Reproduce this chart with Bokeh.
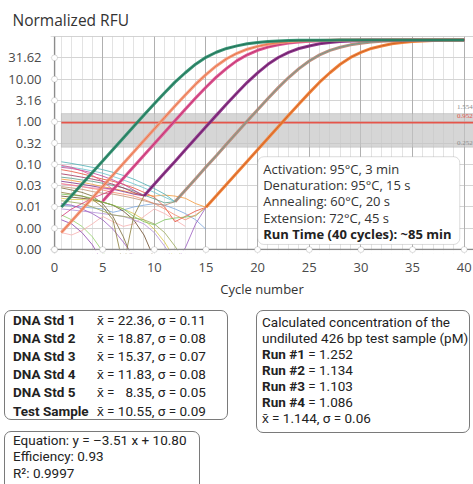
from bokeh.plotting import figure
from bokeh.layouts import column
from bokeh.models import (BoxAnnotation, Label, Span, FixedTicker, Grid, Div,
                          CustomJSTickFormatter, PrintfTickFormatter, Range1d)
from bokeh.embed import file_html
from bokeh.resources import INLINE

FONT = "Open Sans"
BOX_FONT = "Roboto"

# ---------------- data ----------------
cycles = list(range(1, 41))
x_major = [5, 10, 15, 20, 25, 30, 35, 40]
y_ticks = [0.001, 0.003162, 0.01, 0.03162, 0.1, 0.3162, 1.0, 3.162, 10.0, 31.62]

threshold = 0.952
zone_low = 0.252
zone_high = 1.554

# amplification curves (normalized RFU), first value at *_start cycle
std5_start = 1
std5 = [0.0100, 0.0186, 0.0347, 0.0646, 0.120, 0.224, 0.417, 0.776, 1.43, 2.63,
        4.79, 8.51, 14.1, 22.4, 32.4, 42.7, 52.5, 60.3, 67.6, 72.4,
        75.9, 78.5, 80.4, 81.3, 81.7, 82.0, 82.2, 82.3, 82.4, 82.5,
        82.6, 82.6, 82.7, 82.7, 82.8, 82.8, 82.9, 82.9, 83.0, 83.0]
test_start = 1
test = [0.00251, 0.00468, 0.00871, 0.0162, 0.0302, 0.0562, 0.105, 0.195, 0.363, 0.676,
        1.26, 2.33, 4.25, 7.59, 12.8, 20.4, 30.1, 40.4, 50.4, 58.6,
        66.1, 71.4, 75.2, 78.0, 80.0, 81.1, 81.8, 82.4, 82.8, 83.0,
        83.2, 83.3, 83.4, 83.5, 83.5, 83.6, 83.6, 83.7, 83.7, 83.8]
std4_start = 5
std4 = [0.0137, 0.0255, 0.0474, 0.0883, 0.164, 0.306, 0.570, 1.06, 1.96, 3.59,
        6.46, 11.1, 17.9, 27.1, 37.3, 47.5, 56.4, 64.0, 70.1, 74.1,
        77.3, 79.4, 80.7, 81.5, 82.0, 82.4, 82.8, 83.0, 83.2, 83.3,
        83.4, 83.5, 83.6, 83.6, 83.7, 83.7]
std3_start = 9
std3 = [0.0182, 0.0339, 0.0631, 0.117, 0.219, 0.407, 0.759, 1.41, 2.60, 4.73,
        8.41, 14.0, 22.2, 32.1, 42.5, 52.2, 60.1, 67.5, 72.4, 75.9,
        78.5, 80.4, 81.3, 82.0, 82.4, 82.8, 83.0, 83.2, 83.3, 83.4,
        83.5, 83.6]
std2_start = 12
std2 = [0.0133, 0.0248, 0.0462, 0.0861, 0.160, 0.299, 0.556, 1.04, 1.91, 3.51,
        6.31, 10.9, 17.6, 26.7, 37.0, 47.1, 56.1, 63.7, 69.8, 74.1,
        77.1, 79.4, 80.7, 81.5, 82.0, 82.4, 82.8, 83.0, 83.2]
std1_start = 15
std1 = [0.00984, 0.0183, 0.0341, 0.0635, 0.118, 0.220, 0.410, 0.764, 1.42, 2.61,
        4.75, 8.47, 14.1, 22.3, 32.3, 42.6, 52.4, 60.1, 67.6, 72.4,
        75.9, 78.5, 80.4, 81.3, 82.0, 82.4]

# baseline (pre-amplification) traces, from cycle 1
base_std1 = [
    [0.075, 0.068, 0.060, 0.052, 0.045, 0.040, 0.034, 0.028, 0.022, 0.017, 0.010, 0.0045, 0.0060, 0.0080, 0.00984],
    [0.045, 0.042, 0.038, 0.034, 0.030, 0.027, 0.024, 0.021, 0.019, 0.018, 0.019, 0.018, 0.016, 0.012, 0.00984],
    [0.020, 0.019, 0.018, 0.016, 0.013, 0.011, 0.009, 0.006, 0.0045, 0.0038, 0.0050, 0.0055, 0.0058, 0.0062, 0.00984],
    [0.012, 0.011, 0.009, 0.007, 0.005, 0.003, 0.0015, 0.0007, 0.0003, 0.0003, 0.0003, 0.0005, 0.0011, 0.004, 0.00984],
    [0.035, 0.033, 0.030, 0.027, 0.025, 0.022, 0.020, 0.018, 0.015, 0.012, 0.009, 0.0065, 0.0050, 0.0065, 0.00984],
]
base_std1_colors = ["#e8503a", "#f39a3c", "#7cc35a", "#9a5cc0", "#f5896a"]
base_std2 = [
    [0.115, 0.105, 0.095, 0.085, 0.075, 0.065, 0.055, 0.045, 0.035, 0.027, 0.020, 0.0133],
    [0.090, 0.085, 0.078, 0.070, 0.062, 0.052, 0.043, 0.035, 0.028, 0.022, 0.017, 0.0133],
    [0.030, 0.028, 0.026, 0.023, 0.021, 0.020, 0.018, 0.016, 0.014, 0.012, 0.011, 0.0133],
    [0.050, 0.047, 0.043, 0.040, 0.036, 0.032, 0.028, 0.024, 0.019, 0.0155, 0.0125, 0.0133],
]
base_std2_colors = ["#4fb0b5", "#6cc3cf", "#c09070", "#5a9c88"]
base_std3 = [
    [0.040, 0.037, 0.034, 0.031, 0.028, 0.026, 0.023, 0.020, 0.0182],
    [0.085, 0.080, 0.072, 0.063, 0.053, 0.043, 0.034, 0.025, 0.0182],
    [0.022, 0.020, 0.018, 0.015, 0.010, 0.005, 0.0004, 0.006, 0.0182],
    [0.060, 0.055, 0.050, 0.045, 0.040, 0.034, 0.028, 0.022, 0.0182],
]
base_std3_colors = ["#7d2d86", "#c0449a", "#8b7d3a", "#a0305a"]
base_std4 = [
    [0.095, 0.085, 0.070, 0.055, 0.040, 0.0255],
    [0.035, 0.032, 0.030, 0.028, 0.027, 0.0255],
    [0.006, 0.009, 0.012, 0.016, 0.020, 0.0255],
]
base_std4_colors = ["#e0508f", "#ee7fae", "#d23c7a"]
base_other = [
    [0.016, 0.015, 0.015, 0.014, 0.013, 0.011, 0.009, 0.007, 0.005, 0.003, 0.0015, 0.0006],
    [0.0065, 0.005, 0.0035, 0.002, 0.0009, 0.0004],
    [0.011, 0.0105, 0.010, 0.0095, 0.009, 0.0075, 0.0085, 0.010, 0.011, 0.012, 0.011, 0.009, 0.007, 0.005, 0.003],
    [0.0025, 0.0022, 0.0028, 0.004, 0.006, 0.0045, 0.0035, 0.004, 0.006, 0.009, 0.007, 0.005, 0.0035],
    [0.028, 0.025, 0.022, 0.018, 0.012, 0.006, 0.002, 0.0005],
    [0.005, 0.004, 0.0025, 0.0013, 0.0005],
    [0.018, 0.017, 0.016, 0.015, 0.013, 0.011, 0.008, 0.005, 0.0022, 0.0006],
    [0.009, 0.0085, 0.008, 0.0075, 0.007, 0.0065, 0.006, 0.005, 0.004, 0.0025, 0.0012, 0.0005],
    [0.014, 0.013, 0.012, 0.010, 0.008, 0.0065, 0.006, 0.0055, 0.005, 0.004, 0.0025, 0.0012, 0.0005],
]
base_other_colors = ["#d9c84a", "#93d16a", "#7aa6dc", "#f6b0b0", "#7a6a3a",
                     "#8e44ad", "#6b4a2a", "#b48fd8", "#9aa85a"]

protocol = ["Activation: 95\u00b0C, 3 min", "Denaturation: 95\u00b0C, 15 s",
            "Annealing: 60\u00b0C, 20 s", "Extension: 72\u00b0C, 45 s"]
protocol_bold = "Run Time (40 cycles): ~85 min"

std_names = ["DNA Std 1", "DNA Std 2", "DNA Std 3", "DNA Std 4", "DNA Std 5", "Test Sample"]
std_ct = ["22.36", "18.87", "15.37", "11.83", "\u20078.35", "10.55"]
std_sd = ["0.11", "0.08", "0.07", "0.08", "0.05", "0.09"]

runs = ["Run #1", "Run #2", "Run #3", "Run #4"]
run_conc = ["1.252", "1.134", "1.103", "1.086"]
conc_head = ["Calculated concentration of the", "undiluted 426 bp test sample (pM)"]
conc_mean = "x\u0304 = 1.144, \u03c3 = 0.06"

equation = ["Equation: y = \u20133.51 x + 10.80", "Efficiency: 0.93", "R\u00b2: 0.9997"]

# ---------------- main chart ----------------
X0 = 0.34              # position of the "0" tick / y-axis line
XS, XE = -0.05, 40.9   # frame extent (a few px beyond the axis line)
YS, YE = 0.000809, 100

p = figure(width=473, height=300, y_axis_type="log",
           x_range=Range1d(XS, XE), y_range=Range1d(YS, YE),
           output_backend="svg", toolbar_location=None,
           min_border_left=50, min_border_right=0, min_border_top=35, min_border_bottom=44)
p.outline_line_color = None
p.background_fill_color = "white"

p.title.text = "Normalized RFU"
p.title.align = "left"
p.title.offset = -38
p.title.standoff = 12
p.title.text_font = FONT
p.title.text_font_size = "15.5px"
p.title.text_font_style = "normal"
p.title.text_color = "#333333"

p.xgrid.ticker = FixedTicker(ticks=cycles)
p.xgrid.grid_line_color = "#e3e3e3"
p.ygrid.ticker = FixedTicker(ticks=y_ticks)
p.ygrid.grid_line_color = "#d4d4d4"
p.add_layout(Grid(dimension=0, ticker=FixedTicker(ticks=x_major), grid_line_color="#b0b0b0"))
p.add_layout(Span(location=YE, dimension="width", line_color="#a8a8a8", line_width=1))

for ax in (p.xaxis, p.yaxis):
    ax.axis_line_color = None
    ax.major_tick_line_color = None
    ax.minor_tick_line_color = None
    ax.major_label_text_font = FONT
    ax.major_label_text_font_size = "13px"
    ax.major_label_text_color = "#4a4a4a"

p.xaxis.ticker = FixedTicker(ticks=[X0] + x_major)
p.xaxis.formatter = CustomJSTickFormatter(code="return tick < 1 ? '0' : tick.toFixed(0);")
p.xaxis.major_label_standoff = 3
p.xaxis.axis_label = "Cycle number"
p.xaxis.axis_label_text_font = FONT
p.xaxis.axis_label_text_font_size = "13px"
p.xaxis.axis_label_text_font_style = "normal"
p.xaxis.axis_label_text_color = "#333333"
p.xaxis.axis_label_standoff = 5
p.yaxis.ticker = FixedTicker(ticks=y_ticks)
p.yaxis.formatter = PrintfTickFormatter(format="%.2f")
p.yaxis.major_label_standoff = 3

# threshold zone
p.add_layout(BoxAnnotation(left=cycles[0], bottom=zone_low, top=zone_high,
                           fill_color="#c4c4c4", fill_alpha=0.7,
                           line_color="#9a9a9a", line_width=1, level="underlay"))

# baseline traces
for traces, cols in ((base_other, base_other_colors), (base_std1, base_std1_colors),
                     (base_std2, base_std2_colors), (base_std3, base_std3_colors),
                     (base_std4, base_std4_colors)):
    for t, c in zip(traces, cols):
        p.line(cycles[:len(t)], t, line_color=c, line_width=0.9, line_alpha=0.9)

p.segment(x0=[cycles[0]], x1=[XE], y0=[threshold], y1=[threshold], line_color="#e5554a", line_width=1.6)

curves = [
    (std1_start, std1, "#f07e34", "#c85a22"),
    (std2_start, std2, "#bb8878", "#5fa08f"),
    (std3_start, std3, "#8d2f88", "#5e1a5e"),
    (std4_start, std4, "#dc4f8d", "#b8306c"),
    (test_start, test, "#f2967a", "#e66f3e"),
    (std5_start, std5, "#2f8f6f", "#1d6a52"),
]
for s, vals, band, over in curves:
    xs = cycles[s - 1:]
    p.line(xs, vals, line_color=band, line_width=3.0, line_alpha=0.95)
    p.line(xs, vals, line_color=over, line_width=0.9, line_alpha=0.9)

# visible axis lines, then white margins outside them
p.add_layout(Span(location=X0, dimension="height", line_color="#8c8c8c", line_width=1.5))
p.add_layout(Span(location=y_ticks[0], dimension="width", line_color="#8c8c8c", line_width=1.5))
p.add_layout(BoxAnnotation(top=0.00097, fill_color="white", fill_alpha=1, line_color=None))
p.add_layout(BoxAnnotation(right=X0 - 0.1, fill_color="white", fill_alpha=1, line_color=None))

# tiny zone labels
for txt, yv, col in (("1.554", 2.19, "#8c8c8c"), ("0.952", 1.36, "#e5554a"), ("0.252", 0.309, "#8c8c8c")):
    p.add_layout(Label(x=39.3, y=yv, text=txt, text_font="Liberation Serif",
                       text_font_size="7px", text_color=col, text_baseline="middle"))

# hollow tick markers
for v in y_ticks:
    p.add_layout(BoxAnnotation(left=X0 - 0.29, right=X0 + 0.29, bottom=v / 1.172, top=v * 1.172,
                               border_radius=3, fill_color="white", fill_alpha=1,
                               line_color="#8c8c8c", line_width=1, level="overlay"))
for t in [X0] + x_major:
    p.add_layout(BoxAnnotation(left=t - 0.29, right=t + 0.29,
                               bottom=y_ticks[0] / 1.172, top=y_ticks[0] * 1.172,
                               border_radius=3, fill_color="white", fill_alpha=1,
                               line_color="#8c8c8c", line_width=1, level="overlay"))

# protocol box
p.add_layout(BoxAnnotation(left=20.02, right=39.57, bottom=0.00132, top=0.151, border_radius=6,
                           fill_color="white", fill_alpha=1, line_color="#8a8a8a", line_width=1))
for txt, yv in zip(protocol, [0.0787, 0.0335, 0.0136, 0.00543]):
    p.add_layout(Label(x=20.54, y=yv, text=txt, text_font=FONT, text_font_size="13px",
                       text_color="#333333", text_baseline="middle"))
p.add_layout(Label(x=20.54, y=0.00232, text=protocol_bold, text_font=FONT, text_font_size="13px",
                   text_font_style="bold", text_color="#222222", text_baseline="middle"))

# ---------------- info boxes (HTML, below the chart) ----------------
def line(x, yc, html):
    return ('<div style="position:absolute;left:%dpx;top:%.1fpx;line-height:15px;'
            'white-space:pre;">%s</div>' % (x, yc - 7.5, html))

def box(l, t, r, b):
    return ('<div style="position:absolute;box-sizing:border-box;left:%dpx;top:%dpx;width:%dpx;'
            'height:%dpx;border:1px solid #7a7a7a;border-radius:7px;background:#fff;"></div>'
            % (l, t, r - l, b - t))

parts = [box(4, 10, 228, 120), box(256, 10, 470, 133), box(4, 131, 200, 200)]
for name, m, s, yc in zip(std_names, std_ct, std_sd, [20, 38.2, 56.4, 74.6, 92.8, 111]):
    parts.append(line(13, yc, "<b>%s</b>" % name))
    parts.append(line(97, yc, "x\u0304 = %s, \u03c3 = %s" % (m, s)))
parts.append(line(262, 22, conc_head[0]))
parts.append(line(262, 38, conc_head[1]))
for r, c, yc in zip(runs, run_conc, [54, 70, 86, 102]):
    parts.append(line(262, yc, "<b>%s</b> = %s" % (r, c)))
parts.append(line(262, 118, conc_mean))
for txt, yc in zip(equation, [140, 156.7, 173.4]):
    parts.append(line(13, yc, txt))

html = ('<div style="position:relative;width:473px;height:184px;overflow:hidden;'
        'font-family:\'%s\',sans-serif;font-size:13.5px;color:#222;">' % BOX_FONT
        + "".join(parts) + '</div>')
info = Div(text=html, width=473, height=184, margin=0)

layout = column(p, info)
open("out.html", "w").write(file_html(layout, INLINE))
